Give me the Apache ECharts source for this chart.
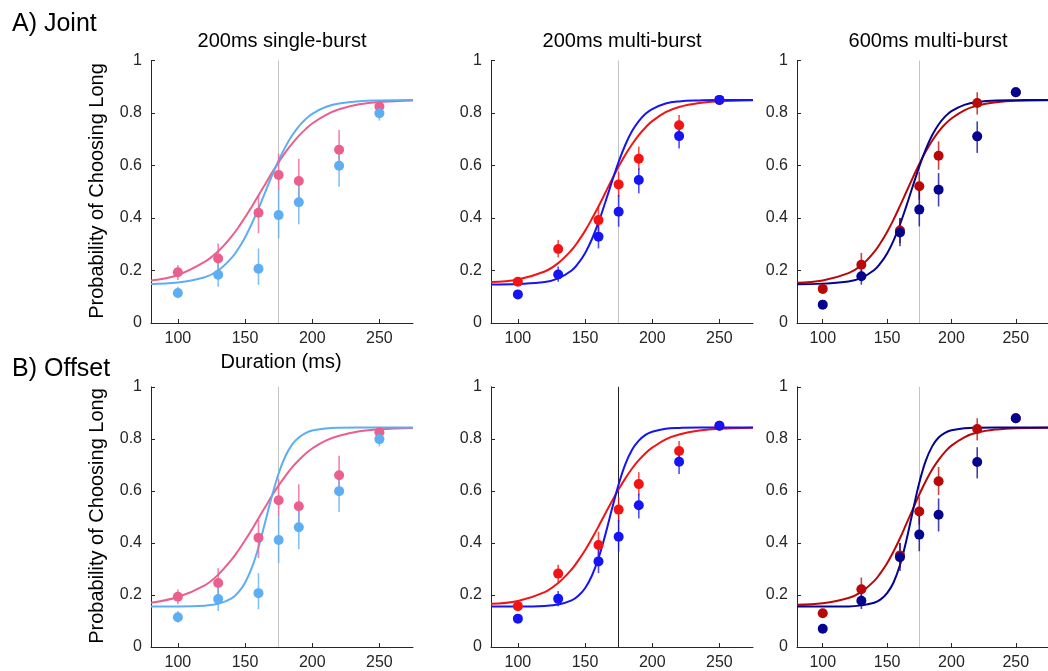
<!DOCTYPE html>
<html>
<head>
<meta charset="utf-8">
<script src="https://cdn.jsdelivr.net/npm/echarts@6/dist/echarts.min.js"></script>
<style>
  html, body { margin: 0; padding: 0; background: #fff; }
  #chart { width: 1048px; height: 671px; }
</style>
</head>
<body>
<div id="chart"></div>
<script>
// tested durations (ms) and axis ticks
var durations = [100, 130, 160, 175, 190, 220, 250];
var xTicks = [100, 150, 200, 250];

// observed proportions: mean / lower / upper end of the error bar
var single200Pink   = [0.193, 0.246, 0.420, 0.564, 0.541, 0.660, 0.825];
var single200PinkLo = [0.164, 0.196, 0.342, 0.505, 0.462, 0.583, 0.811];
var single200PinkHi = [0.221, 0.303, 0.488, 0.645, 0.625, 0.735, 0.843];
var single200Blue   = [0.114, 0.184, 0.207, 0.411, 0.460, 0.599, 0.799];
var single200BlueLo = [0.094, 0.138, 0.145, 0.323, 0.376, 0.519, 0.771];
var single200BlueHi = [0.138, 0.240, 0.284, 0.507, 0.545, 0.665, 0.814];

var multi200Red    = [0.157, 0.282, 0.392, 0.528, 0.626, 0.753, 0.850];
var multi200RedLo  = [0.147, 0.250, 0.348, 0.481, 0.583, 0.716, 0.843];
var multi200RedHi  = [0.167, 0.316, 0.443, 0.577, 0.672, 0.792, 0.857];
var multi200Blue   = [0.109, 0.185, 0.329, 0.424, 0.545, 0.712, 0.850];
var multi200BlueLo = [0.100, 0.157, 0.284, 0.367, 0.494, 0.665, 0.843];
var multi200BlueHi = [0.118, 0.215, 0.380, 0.488, 0.589, 0.754, 0.857];

var multi600Red    = [0.130, 0.222, 0.352, 0.521, 0.637, 0.838, 0.879];
var multi600RedLo  = [0.115, 0.171, 0.305, 0.470, 0.584, 0.794, 0.868];
var multi600RedHi  = [0.145, 0.267, 0.400, 0.575, 0.692, 0.879, 0.890];
var multi600Navy   = [0.070, 0.178, 0.345, 0.432, 0.508, 0.711, 0.879];
var multi600NavyLo = [0.060, 0.146, 0.292, 0.368, 0.444, 0.648, 0.866];
var multi600NavyHi = [0.080, 0.203, 0.400, 0.505, 0.571, 0.768, 0.892];

var fitX = [80, 100, 120, 130, 140, 145, 150, 155, 160, 165, 170, 175, 180, 185, 190, 195, 200, 210, 220, 235, 250, 275];

// A) joint fits
var jointSinglePink = [0.162, 0.183, 0.233, 0.273, 0.330, 0.364, 0.403, 0.443, 0.486, 0.529, 0.572, 0.612, 0.650, 0.683, 0.713, 0.738, 0.760, 0.792, 0.814, 0.833, 0.842, 0.848];
var jointSingleBlue = [0.149, 0.154, 0.174, 0.200, 0.248, 0.283, 0.326, 0.378, 0.436, 0.499, 0.561, 0.619, 0.671, 0.714, 0.749, 0.776, 0.797, 0.823, 0.836, 0.845, 0.848, 0.850];
var jointMultiRed   = [0.156, 0.166, 0.196, 0.228, 0.278, 0.312, 0.351, 0.396, 0.444, 0.495, 0.547, 0.596, 0.641, 0.681, 0.716, 0.745, 0.769, 0.803, 0.823, 0.838, 0.845, 0.849];
var jointMultiBlue  = [0.147, 0.149, 0.156, 0.170, 0.200, 0.228, 0.266, 0.318, 0.383, 0.459, 0.538, 0.614, 0.679, 0.731, 0.769, 0.797, 0.815, 0.836, 0.844, 0.848, 0.850, 0.850];
var jointLongRed    = [0.153, 0.162, 0.190, 0.220, 0.271, 0.306, 0.347, 0.394, 0.446, 0.500, 0.554, 0.606, 0.653, 0.694, 0.729, 0.757, 0.779, 0.810, 0.828, 0.841, 0.847, 0.849];
var jointLongNavy   = [0.148, 0.150, 0.158, 0.172, 0.202, 0.229, 0.265, 0.314, 0.375, 0.446, 0.522, 0.596, 0.661, 0.715, 0.756, 0.786, 0.807, 0.831, 0.842, 0.848, 0.849, 0.850];

// B) offset fits
var offsetSinglePink = [0.170, 0.192, 0.237, 0.278, 0.336, 0.371, 0.410, 0.451, 0.495, 0.538, 0.581, 0.621, 0.657, 0.690, 0.718, 0.743, 0.763, 0.793, 0.812, 0.829, 0.837, 0.842];
var offsetSingleBlue = [0.156, 0.156, 0.159, 0.166, 0.187, 0.210, 0.247, 0.304, 0.383, 0.480, 0.580, 0.667, 0.733, 0.778, 0.805, 0.822, 0.832, 0.840, 0.843, 0.844, 0.844, 0.844];
var offsetMultiRed   = [0.166, 0.177, 0.211, 0.246, 0.298, 0.333, 0.372, 0.416, 0.463, 0.512, 0.560, 0.606, 0.648, 0.686, 0.718, 0.745, 0.766, 0.798, 0.817, 0.832, 0.839, 0.843];
var offsetMultiBlue  = [0.156, 0.156, 0.158, 0.163, 0.179, 0.197, 0.226, 0.273, 0.341, 0.430, 0.530, 0.625, 0.703, 0.758, 0.793, 0.815, 0.827, 0.839, 0.842, 0.844, 0.844, 0.844];
var offsetLongRed    = [0.162, 0.168, 0.188, 0.212, 0.254, 0.285, 0.322, 0.367, 0.418, 0.474, 0.530, 0.586, 0.637, 0.682, 0.719, 0.750, 0.774, 0.806, 0.824, 0.836, 0.841, 0.843];
var offsetLongNavy   = [0.156, 0.156, 0.156, 0.160, 0.170, 0.183, 0.207, 0.248, 0.315, 0.410, 0.523, 0.631, 0.715, 0.771, 0.805, 0.823, 0.833, 0.841, 0.843, 0.844, 0.844, 0.844];

var FONT = '"Liberation Sans", Arial, Helvetica, sans-serif';
var AXIS = '#262626';

var sets = {
  single: { warm: [single200Pink, single200PinkLo, single200PinkHi], cool: [single200Blue, single200BlueLo, single200BlueHi], warmColor: '#ea5f8b', coolColor: '#5daef2' },
  multi:  { warm: [multi200Red, multi200RedLo, multi200RedHi],       cool: [multi200Blue, multi200BlueLo, multi200BlueHi],       warmColor: '#f21414', coolColor: '#1414f5' },
  long:   { warm: [multi600Red, multi600RedLo, multi600RedHi],       cool: [multi600Navy, multi600NavyLo, multi600NavyHi],       warmColor: '#b80808', coolColor: '#04048f' }
};

var panels = [
  { set: 'single', left: 151, top: 60.5,  warmFit: jointSinglePink,  coolFit: jointSingleBlue,  refColor: '#c4c4c4' },
  { set: 'multi',  left: 491, top: 60.5,  warmFit: jointMultiRed,    coolFit: jointMultiBlue,   refColor: '#c4c4c4' },
  { set: 'long',   left: 797, top: 60.5,  warmFit: jointLongRed,     coolFit: jointLongNavy,    refColor: '#c4c4c4' },
  { set: 'single', left: 151, top: 386.8, warmFit: offsetSinglePink, coolFit: offsetSingleBlue, refColor: '#c4c4c4' },
  { set: 'multi',  left: 491, top: 386.8, warmFit: offsetMultiRed,   coolFit: offsetMultiBlue,  refColor: '#222222' },
  { set: 'long',   left: 797, top: 386.8, warmFit: offsetLongRed,    coolFit: offsetLongNavy,   refColor: '#c4c4c4' }
];

function zip(xs, ys) {
  return xs.map(function (x, i) { return [x, ys[i]]; });
}

function errorBars(idx, d, color) {
  return {
    type: 'custom', xAxisIndex: idx, yAxisIndex: idx, z: 3,
    data: durations.map(function (x, i) { return [x, d[1][i], d[2][i]]; }),
    encode: { x: 0, y: [1, 2] },
    renderItem: function (params, api) {
      var a = api.coord([api.value(0), api.value(1)]);
      var b = api.coord([api.value(0), api.value(2)]);
      return { type: 'line', shape: { x1: a[0], y1: a[1], x2: b[0], y2: b[1] },
               style: { stroke: color, lineWidth: 1.6, opacity: 0.75 } };
    }
  };
}

var grids = [], xAxes = [], yAxes = [], series = [];
panels.forEach(function (p, i) {
  var s = sets[p.set];
  grids.push({ left: p.left, top: p.top, width: p.left > 700 ? 263 : 262, height: 262.5 });
  xAxes.push({
    type: 'value', gridIndex: i, min: 80, max: 275,
    axisLine: { show: true, lineStyle: { color: AXIS, width: 1 } },
    axisTick: { show: true, inside: true, length: 4, customValues: xTicks, lineStyle: { color: AXIS } },
    axisLabel: { customValues: xTicks, fontSize: 16, color: AXIS, margin: 8, fontFamily: FONT },
    splitLine: { show: false }
  });
  yAxes.push({
    type: 'value', gridIndex: i, min: 0, max: 1, interval: 0.2,
    axisLine: { show: true, lineStyle: { color: AXIS, width: 1 } },
    axisTick: { show: true, inside: true, length: 4, lineStyle: { color: AXIS } },
    axisLabel: { fontSize: 16, color: AXIS, margin: 9, fontFamily: FONT },
    splitLine: { show: false }
  });
  series.push({
    type: 'line', xAxisIndex: i, yAxisIndex: i, data: zip(fitX, p.warmFit), z: 2,
    smooth: 0.4, showSymbol: false, lineStyle: { color: s.warmColor, width: 2 },
    markLine: { silent: true, z: 1, symbol: ['none', 'none'], label: { show: false },
                lineStyle: { color: p.refColor, width: 1, type: 'solid' }, data: [{ xAxis: 175 }] }
  });
  series.push({
    type: 'line', xAxisIndex: i, yAxisIndex: i, data: zip(fitX, p.coolFit), z: 2,
    smooth: 0.4, showSymbol: false, lineStyle: { color: s.coolColor, width: 2 }
  });
  series.push(errorBars(i, s.warm, s.warmColor));
  series.push(errorBars(i, s.cool, s.coolColor));
  series.push({
    type: 'scatter', xAxisIndex: i, yAxisIndex: i, z: 4, symbolSize: 10,
    data: zip(durations, s.warm[0]), itemStyle: { color: s.warmColor, opacity: 1 }
  });
  series.push({
    type: 'scatter', xAxisIndex: i, yAxisIndex: i, z: 4, symbolSize: 10,
    data: zip(durations, s.cool[0]), itemStyle: { color: s.coolColor, opacity: 1 }
  });
});

function label(text, x, y, size, rot) {
  return { type: 'text', x: x, y: y, rotation: rot || 0,
           style: { text: text, font: size + 'px ' + FONT, fill: '#000', align: 'center', verticalAlign: 'middle' } };
}
function leftLabel(text, x, y) {
  return { type: 'text', x: x, y: y,
           style: { text: text, font: '25px ' + FONT, fill: '#000', align: 'left', verticalAlign: 'middle' } };
}

var chart = echarts.init(document.getElementById('chart'), null, { renderer: 'canvas' });
chart.setOption({
  animation: false,
  backgroundColor: '#fff',
  grid: grids,
  xAxis: xAxes,
  yAxis: yAxes,
  series: series,
  graphic: [
    leftLabel('A) Joint', 12, 24),
    leftLabel('B) Offset', 12, 369),
    label('200ms single-burst', 282, 41, 20),
    label('200ms multi-burst', 622, 41, 20),
    label('600ms multi-burst', 928, 41, 20),
    label('Duration (ms)', 281, 362, 20),
    label('Probability of Choosing Long', 97, 191, 20, Math.PI / 2),
    label('Probability of Choosing Long', 97, 516, 20, Math.PI / 2)
  ]
});
</script>
</body>
</html>
